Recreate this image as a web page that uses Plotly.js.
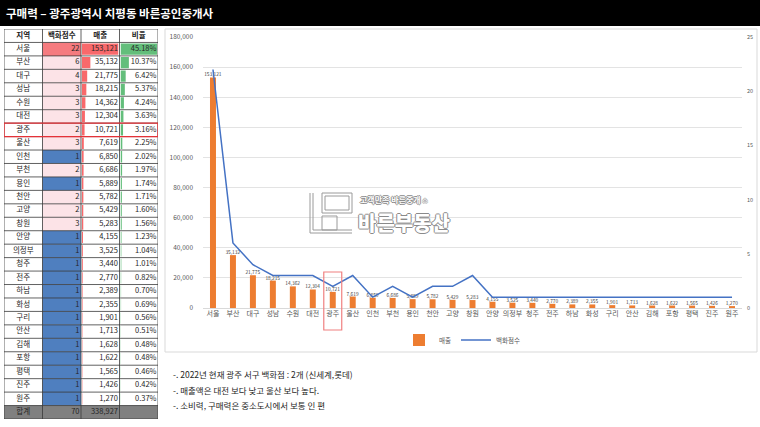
<!DOCTYPE html>
<html><head><meta charset="utf-8">
<script src="https://cdn.plot.ly/plotly-3.0.1.min.js"></script>
<style>html,body{margin:0;padding:0;background:#fff;}#chart{width:760px;height:427px;}</style>
</head><body><div id="chart"></div>
<script>
const regions = ['서울','부산','대구','성남','수원','대전','광주','울산','인천','부천','용인','천안','고양','창원','안양','의정부','청주','전주','하남','화성','구리','안산','김해','포항','평택','진주','원주'];
const storeCounts = [22,6,4,3,3,3,2,3,1,2,1,2,2,3,1,1,1,1,1,1,1,1,1,1,1,1,1];
const sales = [153121,35132,21775,18215,14362,12304,10721,7619,6850,6686,5889,5782,5429,5283,4155,3525,3440,2770,2389,2355,1901,1713,1628,1622,1565,1426,1270];
const shares = [45.18,10.37,6.42,5.37,4.24,3.63,3.16,2.25,2.02,1.97,1.74,1.71,1.60,1.56,1.23,1.04,1.01,0.82,0.70,0.69,0.56,0.51,0.48,0.48,0.46,0.42,0.37];
const totalLabel = '합계';
const totalStores = 70;
const totalSales = 338927;
const tableHeaders = ['지역','백화점수','매출','비율'];
const legendNames = ['매출','백화점수'];
const titleText = '구매력 – 광주광역시 치평동 바른공인중개사';
const highlightRegion = '광주';
const notes = [
  '-. 2022년 현재 광주 서구 백화점 : 2개 (신세계,롯데)',
  '-. 매출액은 대전 보다 낮고 울산 보다 높다.',
  '-. 소비력, 구매력은 중소도시에서 보통 인 편'
];
const logoSmall = '고객만족 바른중개 ⌂';
const logoBig = '바른부동산';

const W = 760, H = 427;
const px = x => x / W;
const py = y => 1 - y / H;
const FONT = 'Noto Sans CJK KR, Noto Sans, sans-serif';
const fmt = v => v.toLocaleString('en-US');

// ---- table geometry (layout only) ----
const nRows = regions.length;
const totalRow = nRows + 1;
const rowIdx = regions.map((_, i) => i + 1);
const tableTopPx = 29, tableBottomPx = 419;
const tableLeftPx = 4, tableRightPx = 158;
const nCols = tableHeaders.length;
const tx = 'x4', ty = 'y4';

const countFill = storeCounts.map(c => c >= 20 ? '#f57b7f' : (c === 1 ? '#4f7fbf' : '#fce3e7'));
const grey = '#808080';
const textCol = '#262626';
const cellFont = {family: FONT, size: 7.5, color: textCol};

const traces = [];

// cell backgrounds
traces.push({type: 'bar', orientation: 'h', xaxis: tx, yaxis: ty, y: rowIdx, x: rowIdx.map(() => 1), base: 0,
  width: 1, marker: {color: '#ffffff', line: {width: 0}}, hoverinfo: 'skip', showlegend: false});
traces.push({type: 'bar', orientation: 'h', xaxis: tx, yaxis: ty, y: rowIdx, x: rowIdx.map(() => 1), base: 1,
  width: 1, marker: {color: countFill, line: {width: 0}}, hoverinfo: 'skip', showlegend: false});
traces.push({type: 'bar', orientation: 'h', xaxis: tx, yaxis: ty, y: [totalRow], x: [nCols], base: 0,
  width: 1, marker: {color: grey, line: {width: 0}}, hoverinfo: 'skip', showlegend: false});

// data bars
traces.push({type: 'bar', orientation: 'h', xaxis: 'x2', yaxis: ty, y: rowIdx, x: sales,
  width: 0.84, marker: {color: '#f8696b', line: {width: 0}}, hoverinfo: 'skip', showlegend: false});
traces.push({type: 'bar', orientation: 'h', xaxis: 'x3', yaxis: ty, y: rowIdx, x: shares,
  width: 0.84, marker: {color: '#63be7b', line: {width: 0}}, hoverinfo: 'skip', showlegend: false});

// header texts
traces.push({type: 'scatter', mode: 'text', xaxis: tx, yaxis: ty, x: tableHeaders.map((_, i) => i + 0.5), y: tableHeaders.map(() => 0),
  text: tableHeaders.map(h => '<b>' + h + '</b>'), textposition: 'middle center', textfont: {family: FONT, size: 7.5, color: '#1a1a1a'},
  hoverinfo: 'skip', showlegend: false, cliponaxis: false});
// body texts
traces.push({type: 'scatter', mode: 'text', xaxis: tx, yaxis: ty, x: rowIdx.map(() => 0.5).concat([0.5]), y: rowIdx.concat([totalRow]),
  text: regions.concat([totalLabel]), textposition: 'middle center', textfont: cellFont, hoverinfo: 'skip', showlegend: false, cliponaxis: false});
traces.push({type: 'scatter', mode: 'text', xaxis: tx, yaxis: ty, x: rowIdx.map(() => 1.96).concat([1.96]), y: rowIdx.concat([totalRow]),
  text: storeCounts.concat([totalStores]).map(String), textposition: 'middle left', textfont: cellFont, hoverinfo: 'skip', showlegend: false, cliponaxis: false});
traces.push({type: 'scatter', mode: 'text', xaxis: tx, yaxis: ty, x: rowIdx.map(() => 2.96).concat([2.96]), y: rowIdx.concat([totalRow]),
  text: sales.concat([totalSales]).map(fmt), textposition: 'middle left', textfont: cellFont, hoverinfo: 'skip', showlegend: false, cliponaxis: false});
traces.push({type: 'scatter', mode: 'text', xaxis: tx, yaxis: ty, x: rowIdx.map(() => 3.96), y: rowIdx,
  text: shares.map(s => s.toFixed(2) + '%'), textposition: 'middle left', textfont: cellFont, hoverinfo: 'skip', showlegend: false, cliponaxis: false});

// ---- main chart ----
traces.push({
  type: 'bar', x: regions, y: sales, name: legendNames[0],
  width: 0.3, marker: {color: '#ed7d31'},
  text: sales.map(fmt), textposition: 'outside', constraintext: 'none', cliponaxis: false,
  textfont: {family: FONT, size: 4.8, color: '#404040'}
});
traces.push({
  type: 'scatter', mode: 'lines', x: regions, y: storeCounts, yaxis: 'y2', name: legendNames[1],
  line: {color: '#4472c4', width: 1.5}
});

// table borders as one path (data coords of table axes)
let grid = '';
for (let r = 0; r <= totalRow + 1; r++) grid += `M0,${r - 0.5} L${nCols},${r - 0.5} `;
for (let c = 0; c <= nCols; c++) grid += `M${c},-0.5 L${c},${totalRow + 0.5} `;

const hiIdx = regions.indexOf(highlightRegion);

const shapes = [
  {type: 'rect', xref: 'paper', yref: 'paper', x0: 0, x1: 1, y0: py(26), y1: 1, fillcolor: '#000000', line: {width: 0}, layer: 'below'},
  {type: 'rect', xref: 'paper', yref: 'paper', x0: px(165), x1: px(757), y0: py(352), y1: py(29), fillcolor: 'rgba(0,0,0,0)', line: {color: '#d9d9d9', width: 1}, layer: 'below'},
  {type: 'path', xref: tx, yref: ty, path: grid, line: {color: '#3a3a3a', width: 0.8}},
  {type: 'rect', xref: tx, yref: ty, x0: 0, x1: nCols, y0: hiIdx + 0.5, y1: hiIdx + 1.5, line: {color: '#e53238', width: 1.4}},
  {type: 'rect', xref: 'x', yref: 'paper', x0: hiIdx - 0.45, x1: hiIdx + 0.45, y0: py(330), y1: py(272), line: {color: '#f08080', width: 1.2}},
  // watermark logo
  {type: 'path', xref: 'paper', yref: 'paper', path: `M${px(310)},${py(193)} L${px(310)},${py(233)} L${px(352)},${py(233)}`, line: {color: '#9a9a9a', width: 1}},
  {type: 'path', xref: 'paper', yref: 'paper', path: `M${px(313)},${py(193)} L${px(313)},${py(230)} L${px(352)},${py(230)}`, line: {color: '#9a9a9a', width: 1}},
  {type: 'rect', xref: 'paper', yref: 'paper', x0: px(322), x1: px(352), y0: py(213), y1: py(193), line: {color: '#9a9a9a', width: 1}},
  {type: 'rect', xref: 'paper', yref: 'paper', x0: px(325), x1: px(349), y0: py(210), y1: py(196), line: {color: '#9a9a9a', width: 1}},
  {type: 'rect', xref: 'paper', yref: 'paper', x0: px(322), x1: px(337), y0: py(230), y1: py(216), line: {color: '#9a9a9a', width: 1}}
];

const outline = '1px 0 0 #8a8a8a, -1px 0 0 #8a8a8a, 0 1px 0 #8a8a8a, 0 -1px 0 #8a8a8a';
const annotations = [
  {text: '<b>' + titleText + '</b>', xref: 'paper', yref: 'paper', x: px(4), y: py(13), xanchor: 'left', yanchor: 'middle', showarrow: false,
   font: {family: FONT, size: 11.5, color: '#ffffff'}},
  {text: logoSmall, xref: 'paper', yref: 'paper', x: px(358), y: py(199), xanchor: 'left', yanchor: 'middle', showarrow: false,
   font: {family: FONT, size: 8, color: '#ffffff', weight: 700, shadow: outline}},
  {text: logoBig, xref: 'paper', yref: 'paper', x: px(356), y: py(222), xanchor: 'left', yanchor: 'middle', showarrow: false,
   font: {family: FONT, size: 20, color: '#ffffff', weight: 900, shadow: outline}}
];
notes.forEach((n, i) => annotations.push({
  text: n, xref: 'paper', yref: 'paper', x: px(171), y: py(374 + i * 15.5), xanchor: 'left', yanchor: 'middle', showarrow: false,
  font: {family: FONT, size: 8.5, color: '#262626'}
}));

const colW = (tableRightPx - tableLeftPx) / nCols;
const hidden = {visible: false, fixedrange: true, showgrid: false, zeroline: false};

const layout = {
  width: W, height: H,
  margin: {l: 0, r: 0, t: 0, b: 0},
  paper_bgcolor: '#ffffff', plot_bgcolor: 'rgba(0,0,0,0)',
  font: {family: FONT},
  barmode: 'overlay',
  showlegend: true,
  legend: {orientation: 'h', x: px(462), xanchor: 'center', y: py(340), yanchor: 'middle',
           font: {family: FONT, size: 6.5, color: '#595959'}, bgcolor: 'rgba(0,0,0,0)', itemwidth: 30, tracegroupgap: 0},
  xaxis: {domain: [px(203), px(742)], type: 'category', tickfont: {family: FONT, size: 7, color: '#595959'},
          showline: false, ticks: '', showgrid: false, fixedrange: true, anchor: 'y'},
  yaxis: {domain: [py(308), py(37)], range: [0, 180000], dtick: 20000, tickformat: ',', gridcolor: '#e3e3e3', gridwidth: 1,
          zeroline: true, zerolinecolor: '#d9d9d9', tickfont: {family: FONT, size: 6.5, color: '#595959'},
          ticks: '', ticklabelstandoff: 9, fixedrange: true, anchor: 'x'},
  yaxis2: {overlaying: 'y', side: 'right', range: [0, 25], dtick: 5, showgrid: false, zeroline: false,
           tickfont: {family: FONT, size: 5.5, color: '#595959'}, ticks: '', ticklabelstandoff: 4, fixedrange: true, anchor: 'x'},
  xaxis4: Object.assign({domain: [px(tableLeftPx), px(tableRightPx)], range: [0, nCols], anchor: 'y4'}, hidden),
  yaxis4: Object.assign({domain: [py(tableBottomPx), py(tableTopPx)], range: [totalRow + 0.5, -0.5], anchor: 'x4'}, hidden),
  xaxis2: Object.assign({domain: [px(tableLeftPx + 2 * colW + 1), px(tableLeftPx + 3 * colW - 1)], range: [0, Math.max(...sales)], anchor: 'y4'}, hidden),
  xaxis3: Object.assign({domain: [px(tableLeftPx + 3 * colW + 1), px(tableLeftPx + 4 * colW - 1)], range: [0, Math.max(...shares)], anchor: 'y4'}, hidden),
  shapes: shapes,
  annotations: annotations
};

Plotly.newPlot('chart', traces, layout, {staticPlot: true, displayModeBar: false});
</script>
</body></html>
